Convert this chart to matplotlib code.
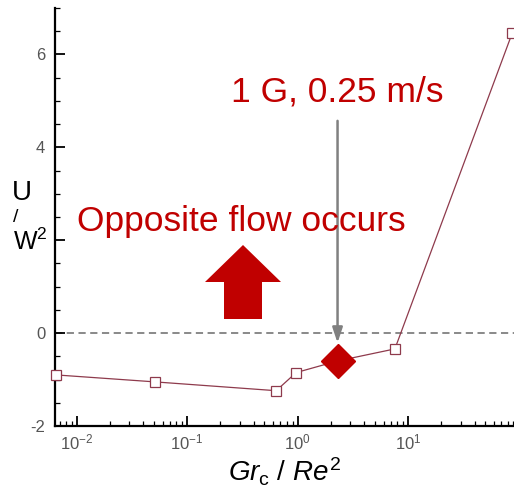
import matplotlib
matplotlib.use('Agg')
import matplotlib.pyplot as plt
from matplotlib.patches import Polygon
from matplotlib.ticker import LogLocator, MultipleLocator, FuncFormatter

plt.rcParams['font.family'] = 'Liberation Sans'
plt.rcParams['mathtext.fontset'] = 'custom'
plt.rcParams['mathtext.rm'] = 'Liberation Sans'
plt.rcParams['mathtext.it'] = 'Liberation Sans:italic'

# data
gr_re2 = [0.0065, 0.051, 0.64, 0.97, 2.3, 7.6, 88]
uw2 = [-0.90, -1.05, -1.24, -0.85, -0.60, -0.34, 6.47]
highlight_x = [2.3]
highlight_y = [-0.60]

W, H = 514, 490
fig = plt.figure(figsize=(W / 100, H / 100), dpi=100)
ax = fig.add_axes([55 / W, 1 - 426 / H, (W - 55) / W, (426 - 8) / H])

line_col = '#8e3a4c'
red = '#c00000'
grey = '#808080'

ax.axhline(0, color=grey, lw=1.3, ls=(0, (4, 2.5)), zorder=1)
ax.plot(gr_re2, uw2, color=line_col, lw=0.9, marker='s', ms=7,
        mfc='white', mec=line_col, mew=0.9, zorder=3, clip_on=False)
ax.plot(highlight_x, highlight_y, ls='none', marker='D', ms=17,
        color=red, zorder=4)

ax.set_xscale('log')
ax.set_xlim(0.00637, 91)
ax.set_ylim(-2, 7)
ax.yaxis.set_major_locator(MultipleLocator(2))
ax.yaxis.set_minor_locator(MultipleLocator(0.5))
# the "2" label sits inside the W^2 axis title
ax.yaxis.set_major_formatter(FuncFormatter(lambda v, p: '' if v == 2 else f'{v:g}'))
ax.xaxis.set_major_locator(LogLocator(base=10, numticks=10))
ax.xaxis.set_minor_locator(LogLocator(base=10, subs=range(2, 10), numticks=20))

for s in ['top', 'right']:
    ax.spines[s].set_visible(False)
for s in ['left', 'bottom']:
    ax.spines[s].set_linewidth(1.6)

ax.tick_params(which='major', direction='in', length=7, width=1.3,
               labelsize=12, labelcolor='#555555')
ax.tick_params(which='minor', direction='in', length=3.5, width=0.9)
ax.tick_params(axis='y', pad=7)
ax.tick_params(axis='x', pad=5)

ax.set_xlabel(r'$Gr_{\mathrm{c}}\ \mathrm{/}\ Re^2$', fontsize=20, labelpad=2)

# stacked y label
fig.text(22 / W, 1 - 193 / H, 'U', fontsize=20, ha='center', va='center')
fig.text(16 / W, 1 - 217 / H, '/', fontsize=14, ha='center', va='center')
fig.text(30 / W, 1 - 242 / H, r'W$^2$', fontsize=18, ha='center', va='center')

# annotations
ax.annotate('', xy=(2.3, -0.27), xytext=(2.3, 4.63),
            arrowprops=dict(arrowstyle='-|>,head_length=0.9,head_width=0.3',
                            color=grey, lw=1.8), zorder=5)
fig.text(337 / W, 1 - 92 / H, '1 G, 0.25 m/s', color=red, fontsize=25.5,
         ha='center', va='center')
fig.text(241 / W, 1 - 222 / H, 'Opposite flow occurs', color=red, fontsize=25.5,
         ha='center', va='center')

arrow_px = [(224, 319), (262, 319), (262, 282), (281, 282), (243, 245),
            (205, 282), (224, 282)]
fig.patches.append(Polygon([(x / W, 1 - y / H) for x, y in arrow_px],
                           closed=True, transform=fig.transFigure,
                           facecolor=red, edgecolor='none'))

fig.savefig('out.png', dpi=100)
